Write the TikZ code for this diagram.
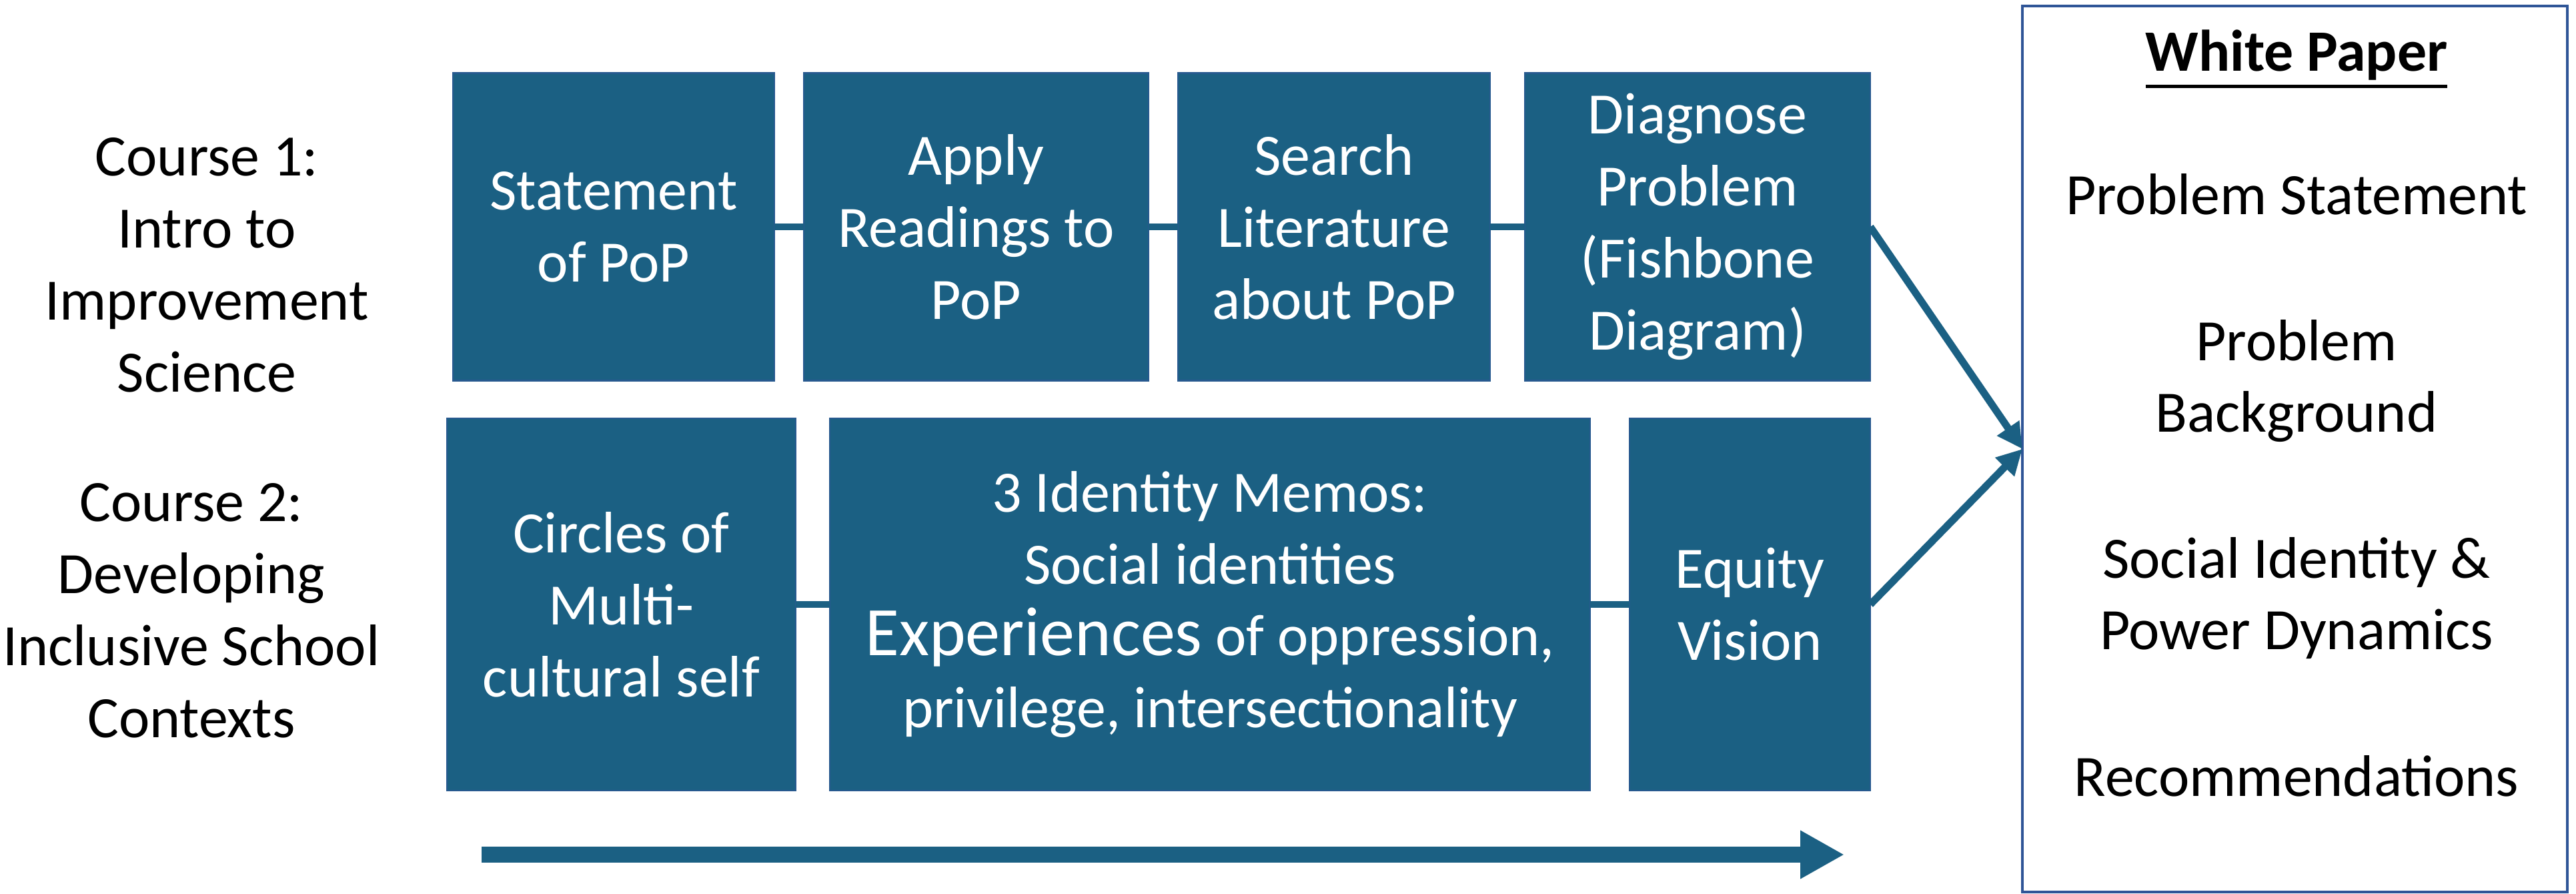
\documentclass[tikz,border=0pt]{standalone}
\usepackage{fontspec}
\setmainfont{Carlito}
\usetikzlibrary{arrows.meta}
\definecolor{boxblue}{HTML}{1B6083}
\definecolor{edgeblue}{HTML}{2F5597}
\newcommand{\wpunder}[1]{\setbox0\hbox{#1}\rlap{\rule[-0.28em]{\wd0}{1.4pt}}\box0}
\begin{document}
\begin{tikzpicture}[inner sep=0pt,outer sep=0pt,
textfont/.style={font=\fontsize{25}{30.7}\selectfont,align=center},
stepbox/.style={draw=edgeblue!60!boxblue,rectangle,fill=boxblue,line width=0.6pt,text=white,minimum height=4.61cm,textfont},
rowbox/.style={stepbox,minimum height=5.58cm},
link/.style={draw=boxblue,line width=0.1cm},
feed/.style={draw=boxblue,line width=0.11cm,-{Triangle[length=0.38cm,width=0.38cm]}}]

\useasboundingbox (0,0) rectangle (38.62,13.39);

\draw (3.10,9.42) node[textfont] (course1) {Course 1:\\Intro to\\Improvement\\Science};
\draw (2.87,4.24) node[textfont] (course2) {Course 2:\\Developing\\Inclusive School\\Contexts};

\draw (9.20,9.99) node[stepbox,minimum width=4.82cm] (stmt) {Statement\\of PoP};
\draw (14.635,9.99) node[stepbox,minimum width=5.17cm] (apply) {Apply\\Readings to\\PoP};
\draw (20.00,9.99) node[stepbox,minimum width=4.68cm] (search) {Search\\Literature\\about PoP};
\draw (25.45,9.99) node[stepbox,minimum width=5.18cm] (diag) {Diagnose\\Problem\\(Fishbone\\Diagram)};

\draw (9.315,4.33) node[rowbox,minimum width=5.23cm] (circles) {Circles of\\Multi-\\cultural self};
\draw (18.14,4.33) node[rowbox,minimum width=11.40cm] (memos) {3 Identity Memos:\\Social identities\\{\fontsize{29.6}{30.7}\selectfont Experiences} of oppression,\\privilege, intersectionality};
\draw (26.235,4.33) node[rowbox,minimum width=3.61cm] (equity) {Equity\\Vision};

\draw (34.405,6.66) node[draw=edgeblue,line width=1.1pt,rectangle,minimum width=8.17cm,minimum height=13.28cm] (wp) {};
\draw (34.43,12.32) node[textfont,anchor=base] (wptitle) {\wpunder{\textbf{White Paper}}};
\draw (34.43,10.17) node[textfont,anchor=base] (wpstmt) {Problem Statement};
\draw (34.43,6.91) node[textfont,anchor=base] (wpback) {Problem\\Background};
\draw (34.43,3.65) node[textfont,anchor=base] (wpsocial) {Social Identity \&\\Power Dynamics};
\draw (34.43,1.46) node[textfont,anchor=base] (wprec) {Recommendations};

\draw[link] (stmt) -- (apply);
\draw[link] (apply) -- (search);
\draw[link] (search) -- (diag);
\draw[link] (circles) -- (memos);
\draw[link] (memos) -- (equity);

\draw[feed] (diag.east) -- (wp.west);
\draw[feed] (equity.east) -- (wp.west);

\coordinate (tl0) at (7.22,0.58);
\coordinate (tl1) at (27.65,0.58);
\draw[draw=boxblue,line width=0.24cm,-{Triangle[length=0.66cm,width=0.68cm]}] (tl0) -- (tl1);
\end{tikzpicture}
\end{document}
